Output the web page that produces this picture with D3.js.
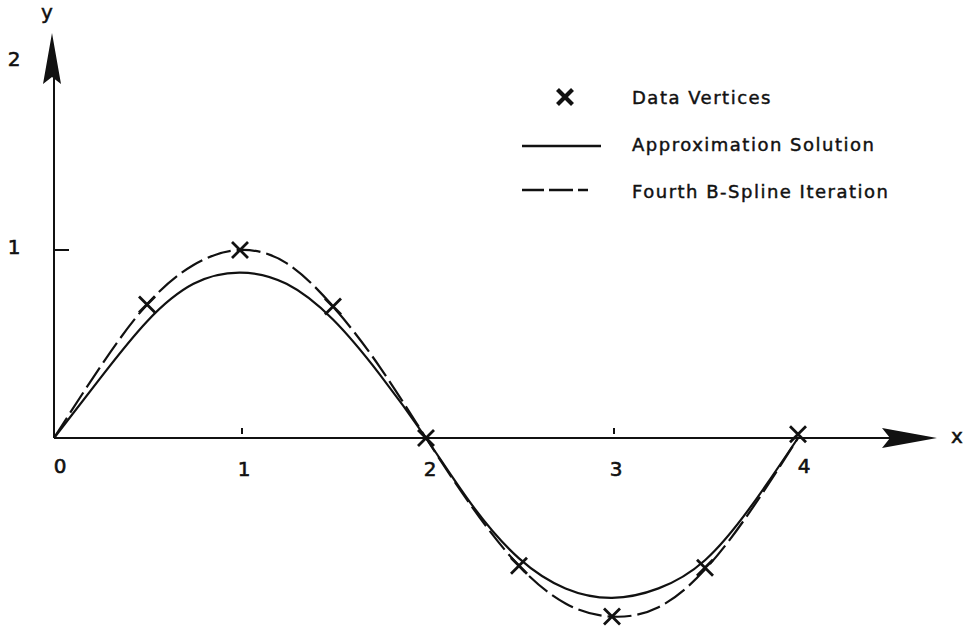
<!DOCTYPE html>
<html>
<head>
<meta charset="utf-8">
<script src="https://cdn.jsdelivr.net/npm/d3@7"></script>
<style>
  html, body { margin: 0; padding: 0; background: #fff; }
  svg text { font-family: "DejaVu Sans", "Liberation Sans", sans-serif; fill: #111; }
</style>
</head>
<body>
<svg id="chart" width="963" height="630"></svg>
<script>
// Sample abscissae for the two curves
const curveX = [0, 0.25, 0.5, 0.75, 1, 1.25, 1.5, 1.75, 2, 2.25, 2.5, 2.75, 3, 3.25, 3.5, 3.75, 4];
// Approximation solution (solid)
const approxY = [0, 0.32, 0.62, 0.82, 0.88, 0.82, 0.63, 0.34, 0, -0.36, -0.64, -0.80, -0.85, -0.80, -0.65, -0.36, 0];
// Fourth B-spline iteration (dashed)
const splineY = [0, 0.38, 0.71, 0.92, 1.0, 0.93, 0.70, 0.38, 0, -0.37, -0.68, -0.88, -0.95, -0.90, -0.70, -0.38, 0];
// Data vertices
const vertexX = [0.5, 1, 1.5, 2, 2.5, 3, 3.5, 4];
const vertexY = [0.71, 1.0, 0.70, 0, -0.68, -0.95, -0.69, 0.02];
// Axis ticks
const xTicks = [0, 1, 2, 3, 4];
const yTicks = [1, 2];
const legendLabels = ["Data Vertices", "Approximation Solution", "Fourth B-Spline Iteration"];

const svg = d3.select("#chart");
const ink = "#111";

const x = d3.scaleLinear().domain([0, 4]).range([54, 798]);
const y = d3.scaleLinear().domain([0, 1]).range([438, 250]);

// Axes
svg.append("line").attr("x1", x(0)).attr("x2", 890).attr("y1", y(0)).attr("y2", y(0))
  .attr("stroke", ink).attr("stroke-width", 2);
svg.append("line").attr("x1", x(0)).attr("x2", x(0)).attr("y1", y(0)).attr("y2", 78)
  .attr("stroke", ink).attr("stroke-width", 2);

// Arrowheads
svg.append("path")
  .attr("d", "M937,438 L882,428 L890,438 L882,448 Z")
  .attr("fill", ink);
svg.append("path")
  .attr("d", `M${x(0) - 2},33 L${x(0) - 11},84 L${x(0) - 2},77 L${x(0) + 7},84 Z`)
  .attr("fill", ink);

// Axis names
svg.append("text").attr("x", 957).attr("y", 443).attr("text-anchor", "middle")
  .attr("font-size", 20).attr("stroke", ink).attr("stroke-width", 0.5).text("x");
svg.append("text").attr("x", 47).attr("y", 19).attr("text-anchor", "middle")
  .attr("font-size", 20).attr("stroke", ink).attr("stroke-width", 0.5).text("y");

// x ticks and labels
svg.selectAll(".xtick").data(xTicks.filter(d => d === 1 || d === 3)).enter().append("line")
  .attr("x1", d => x(d) + 2).attr("x2", d => x(d) + 2)
  .attr("y1", y(0) - 10).attr("y2", y(0) - 4)
  .attr("stroke", ink).attr("stroke-width", 2);
svg.selectAll(".xlab").data(xTicks).enter().append("text")
  .attr("x", d => x(d) + (d === 0 ? 6 : d === 4 ? 6 : 4))
  .attr("y", d => (d === 0 || d === 4) ? 473 : 476)
  .attr("text-anchor", "middle").attr("font-size", 20)
  .attr("stroke", ink).attr("stroke-width", 0.6)
  .text(d => d);

// y ticks and labels
svg.append("line").attr("x1", x(0)).attr("x2", x(0) + 15).attr("y1", y(1)).attr("y2", y(1))
  .attr("stroke", ink).attr("stroke-width", 2);
svg.selectAll(".ylab").data(yTicks).enter().append("text")
  .attr("x", 14).attr("y", d => y(d) + 4)
  .attr("text-anchor", "middle").attr("font-size", 20)
  .attr("stroke", ink).attr("stroke-width", 0.6)
  .text(d => d);

// Curves
const line = d3.line().x(d => x(d[0])).y(d => y(d[1])).curve(d3.curveNatural);
svg.append("path").datum(curveX.map((v, i) => [v, approxY[i]]))
  .attr("d", line).attr("fill", "none").attr("stroke", ink).attr("stroke-width", 2.2);
svg.append("path").datum(curveX.map((v, i) => [v, splineY[i]]))
  .attr("d", line).attr("fill", "none").attr("stroke", ink).attr("stroke-width", 2.2)
  .attr("stroke-dasharray", "24,6");

// Data vertex markers
const xMark = (cx, cy, r, w) => {
  const g = svg.append("g").attr("transform", `translate(${cx},${cy})`);
  g.append("path").attr("d", `M${-r},${-r}L${r},${r}M${-r},${r}L${r},${-r}`)
    .attr("stroke", ink).attr("stroke-width", w).attr("fill", "none");
};
vertexX.forEach((v, i) => xMark(x(v), y(vertexY[i]), 8, 2.8));

// Legend
xMark(565, 97, 7.5, 4.2);
svg.append("line").attr("x1", 522).attr("x2", 601).attr("y1", 146).attr("y2", 146)
  .attr("stroke", ink).attr("stroke-width", 2.4);
svg.append("line").attr("x1", 522).attr("x2", 606).attr("y1", 190).attr("y2", 190)
  .attr("stroke", ink).attr("stroke-width", 2.4).attr("stroke-dasharray", "22,5,24,5,10");
svg.selectAll(".leg").data(legendLabels).enter().append("text")
  .attr("x", 632).attr("y", (d, i) => 104 + i * 47)
  .attr("font-size", 18).attr("letter-spacing", 1.5)
  .attr("stroke", ink).attr("stroke-width", 0.45)
  .text(d => d);
</script>
</body>
</html>
